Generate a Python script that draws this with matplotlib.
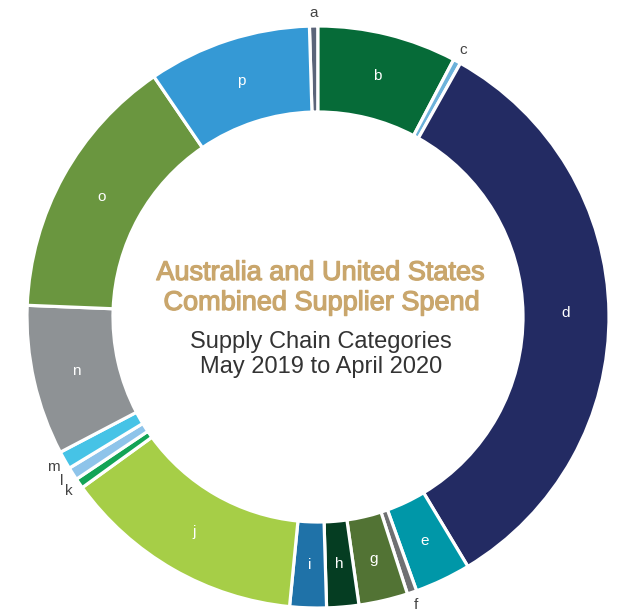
import matplotlib
matplotlib.use('Agg')
import matplotlib.pyplot as plt
import matplotlib.patheffects as pe
import numpy as np

# Spend share by supply chain category (%), clockwise from the top
labels = ['a', 'b', 'c', 'd', 'e', 'f', 'g', 'h',
          'i', 'j', 'k', 'l', 'm', 'n', 'o', 'p']
share = [0.47, 7.72, 0.42, 33.25, 3.11, 0.53, 2.72, 1.78,
         2.03, 13.47, 0.56, 0.72, 1.00, 8.33, 14.83, 9.06]
colors = ['#5b6479', '#066b38', '#6cb2da', '#232b63', '#0097a8', '#6f7072',
          '#527334', '#053d22', '#1f72a8', '#a6ce47', '#13a456', '#8ec4ea',
          '#46c3e6', '#8e9295', '#6a963f', '#3599d5']

# Figure in pixel units: 617 x 614
fig = plt.figure(figsize=(6.17, 6.14), dpi=100)
ax = fig.add_axes([0, 0, 1, 1])

cx, cy = 318, 614 - 317
R_out = 291
ring = 86

wedges, _ = ax.pie(share, colors=colors, startangle=90 + share[0] * 3.6,
                   counterclock=False, radius=R_out, center=(cx, cy),
                   wedgeprops=dict(width=ring, edgecolor='white', linewidth=2.3))

# slice letters: inside the ring for large slices, outside for slivers
for w, lab, v in zip(wedges, labels, share):
    ang = np.deg2rad((w.theta1 + w.theta2) / 2)
    if v < 1.5:
        r = R_out + 13
        col = '#444444'
    else:
        r = R_out - ring / 2
        col = 'white'
    ax.text(cx + r * np.cos(ang), cy + r * np.sin(ang), lab,
            ha='center', va='center', fontsize=11, color=col,
            family='Liberation Sans')

# centre titles
tan = '#c9a66c'
stroke = [pe.withStroke(linewidth=0.9, foreground=tan)]
ax.text(321, 614 - 280, 'Australia and United States', ha='center', va='baseline',
        fontsize=19.5, color=tan, family='Liberation Sans', path_effects=stroke)
ax.text(322, 614 - 310, 'Combined Supplier Spend', ha='center', va='baseline',
        fontsize=19.5, color=tan, family='Liberation Sans', path_effects=stroke)
ax.text(321, 614 - 348, 'Supply Chain Categories', ha='center', va='baseline',
        fontsize=17, color='#333333', family='Liberation Sans')
ax.text(321, 614 - 373, 'May 2019 to April 2020', ha='center', va='baseline',
        fontsize=17, color='#333333', family='Liberation Sans')

ax.set_xlim(0, 617)
ax.set_ylim(0, 614)
ax.set_aspect('equal')
ax.axis('off')

plt.savefig('out.png', dpi=100, facecolor='white')
plt.close()
